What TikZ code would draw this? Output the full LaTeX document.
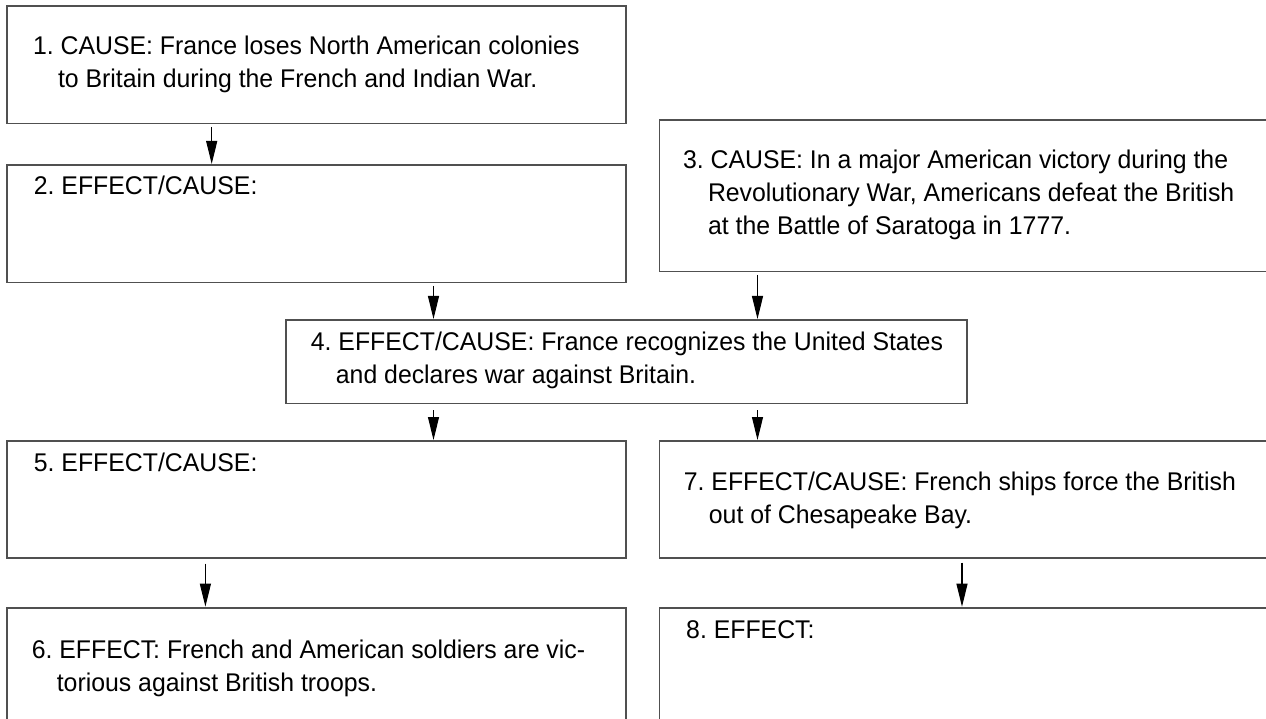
\documentclass[tikz,border=0pt]{standalone}
\usepackage{fontspec}
\setmainfont{Liberation Sans}[FakeStretch=0.97]
\usetikzlibrary{arrows.meta,calc}
\definecolor{boxgray}{HTML}{505050}
\frenchspacing
\begin{document}
\begin{tikzpicture}[x=1pt,y=-1pt,
  box/.style={draw=boxgray, line width=1.8pt, rectangle, inner sep=0pt, anchor=north west},
  txt/.style={anchor=base west, inner sep=0pt, font=\fontsize{25.6}{33}\selectfont},
  arr/.style={-{Triangle[length=23pt,width=11pt]}, line width=1.1pt}]
\useasboundingbox (0,0) rectangle (1266,719);
\fill[white] (0,0) rectangle (1266,719);
\newcommand{\hind}{\hspace*{25pt}}
% boxes
\node[box, minimum width=619pt, minimum height=117.4pt] (b1) at (6.3,5.3) {};
\node[box, minimum width=619pt, minimum height=117.7pt] (b2) at (6,164) {};
\node[box, minimum width=660pt, minimum height=151.7pt] (b3) at (658.6,119) {};
\node[box, minimum width=681.2pt, minimum height=83.5pt] (b4) at (285,319) {};
\node[box, minimum width=619pt, minimum height=117.3pt] (b5) at (6,440) {};
\node[box, minimum width=619pt, minimum height=160pt] (b6) at (6,606.7) {};
\node[box, minimum width=660pt, minimum height=117.3pt] (b7) at (658.6,440) {};
\node[box, minimum width=660pt, minimum height=160pt] (b8) at (658.6,606.7) {};
% texts
\node[txt] (t1) at (32.8,55) {\begin{tabular}[t]{@{}l@{}}1. CAUSE: France loses North American colonies\\\hind to Britain during the French and Indian War.\end{tabular}};
\node[txt] (t2) at (33.7,195) {2. EFFECT/CAUSE:};
\node[txt] (t3) at (682.8,168.3) {\begin{tabular}[t]{@{}l@{}}3. CAUSE: In a major American victory during the\\\hind Revolutionary War, Americans defeat the British\\\hind at the Battle of Saratoga in 1777.\end{tabular}};
\node[txt] (t4) at (310.7,350) {\begin{tabular}[t]{@{}l@{}}4. EFFECT/CAUSE: France recognizes the United States\\\hind and declares war against Britain.\end{tabular}};
\node[txt] (t5) at (33.7,471.7) {5. EFFECT/CAUSE:};
\node[txt] (t6) at (31.6,658.3) {\begin{tabular}[t]{@{}l@{}}6. EFFECT: French and American soldiers are vic-\\\hind torious against British troops.\end{tabular}};
\node[txt] (t7) at (683.7,490) {\begin{tabular}[t]{@{}l@{}}7. EFFECT/CAUSE: French ships force the British\\\hind out of Chesapeake Bay.\end{tabular}};
\node[txt] (t8) at (686,638.3) {8. EFFECT:};
% arrow columns
\coordinate (c12) at (211.7,0);
\coordinate (c24) at (433.5,0);
\coordinate (c34) at (757.5,0);
\coordinate (c56) at (205.4,0);
\coordinate (c78) at (962,0);
% arrows
\draw[arr] ($(b1.south -| c12)+(0,2.5)$) -- (b2.north -| c12);
\draw[arr] ($(b2.south -| c24)+(0,2.5)$) -- (b4.north -| c24);
\draw[arr] ($(b3.south -| c34)+(0,2.5)$) -- (b4.north -| c34);
\draw[arr] ($(b4.south -| c24)+(0,6)$) -- (b5.north -| c24);
\draw[arr] ($(b4.south -| c34)+(0,6)$) -- (b7.north -| c34);
\draw[arr] ($(b5.south -| c56)+(0,4.5)$) -- (b6.north -| c56);
\draw[arr] ($(b7.south -| c78)+(0,3.5)$) -- (b8.north -| c78);
\end{tikzpicture}
\end{document}
